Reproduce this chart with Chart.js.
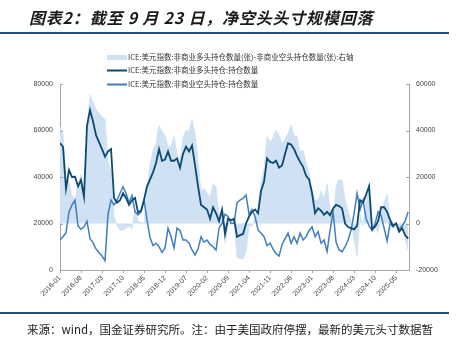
<!DOCTYPE html>
<html>
<head>
<meta charset="utf-8">
<script src="https://cdn.jsdelivr.net/npm/chart.js@4"></script>
<style>
    body { margin: 0; width: 462px; height: 342px; overflow: hidden; background: #fff; position: relative; font-family: "Noto Sans CJK SC", sans-serif; }
    #chart { position: absolute; left: 0; top: 0; }
    .title { position: absolute; left: 29px; top: 5px; font-size: 16px; font-style: italic; font-weight: bold; letter-spacing: 0.8px; color: #1a1a1a; white-space: nowrap; }
    .rule { position: absolute; left: 0; width: 449px; height: 1.5px; background: #1f4f7c; }
    .note { position: absolute; left: 27px; top: 321px; font-size: 11.5px; color: #222; white-space: nowrap; }
</style>
</head>
<body>
<canvas id="chart" width="462" height="342"></canvas>
<div class="title">图表2：截至 9 月 23 日，净空头头寸规模回落</div>
<div class="rule" style="top:32px"></div>
<div class="rule" style="top:312px"></div>
<div class="note">来源：wind，国金证券研究所。注：由于美国政府停摆，最新的美元头寸数据暂</div>
<script>
// ── Data (monthly, 2016-01 … 2025-09) ─────────────────────
const tickLabels = ['2016-01', '2016-08', '2017-03', '2017-10', '2018-05', '2018-12', '2019-07', '2020-02',
    '2020-09', '2021-04', '2021-11', '2022-06', '2023-01', '2023-08', '2024-03', '2024-10', '2025-05'];

const seriesNames = [
    'ICE:美元指数:非商业多头持仓数量(张)-非商业空头持仓数量(张):右轴',
    'ICE:美元指数:非商业多头持仓:持仓数量',
    'ICE:美元指数:非商业空头持仓:持仓数量'
];

// non-commercial long
const longV = [
    54600, 53000, 35000, 43000, 40000, 40100, 36000, 38700, 31500, 62000,
    68800, 64000, 58000, 55000, 52000, 48700, 51000, 52000, 31000, 29000,
    30000, 33000, 31000, 28000, 30000, 31000, 24800, 25500, 30100, 36000,
    39000, 42000, 46000, 52000, 47000, 47500, 51000, 47000, 47000, 48000,
    44000, 50000, 53000, 51000, 53500, 45000, 36000, 28000, 27000, 26000,
    22000, 27000, 24400, 21000, 26000, 15500, 22000, 21500, 22000, 14300,
    15000, 15500, 20000, 23000, 25000, 26000, 24400, 34000, 38000, 48000,
    46500, 46000, 47000, 44000, 45000, 50000, 54500, 54000, 52000, 49000,
    46500, 44400, 40500, 39000, 33000, 24400, 26500, 25500, 23700, 25000,
    23500, 26500, 28000, 27500, 26500, 20000, 18500, 18000, 17500, 19000,
    30000, 29000, 32500, 36000, 17500, 18600, 21000, 27000, 27000, 25000,
    21500, 19000, 20000, 16500, 18000, 15000, 13500
];

// non-commercial short
const shortV = [
    12900, 14300, 16000, 25000, 28000, 30000, 19000, 17500, 18600, 21000,
    13500, 11800, 9000, 7500, 6000, 4000, 24000, 30100, 28000, 30000,
    33000, 35800, 33000, 29000, 32000, 25000, 23700, 25000, 30100, 21500,
    14000, 10500, 11500, 10000, 7500, 9500, 18000, 14300, 9500, 18000,
    17000, 12900, 12900, 11500, 8600, 6500, 9000, 14300, 12000, 12900,
    11000, 10000, 8600, 18000, 20000, 24000, 23000, 20000, 20100, 29000,
    30100, 30800, 32300, 24000, 26000, 23000, 17200, 15800, 14300, 10500,
    11500, 9000, 7000, 6000, 11000, 13500, 15800, 11500, 14300, 11500,
    15800, 12900, 14300, 17000, 18600, 14300, 16500, 11500, 12900, 8000,
    17000, 25000, 12000, 8600, 7900, 10000, 12900, 17200, 24400, 33000,
    26000, 30100, 22000, 19000, 17000, 20000, 25000, 23500, 18000, 12500,
    20000, 18600, 20100, 17500, 19000, 21000, 25000
];

// net position (right axis)
const netV = [
    41700, 38700, 19000, 18000, 12000, 10100, 17000, 21200, 12900, 41000,
    55300, 52200, 49000, 47500, 46000, 44700, 27000, 21900, 3000, -1000,
    -3000, -2800, -2000, -1000, -2000, 6000, 1100, 500, 0, 14500,
    25000, 31500, 34500, 42000, 39500, 38000, 33000, 32700, 37500, 30000,
    27000, 37100, 40100, 39500, 44900, 38500, 27000, 13700, 15000, 13100,
    11000, 17000, 15800, 3000, 6000, -8500, -1000, 1500, 1900, -14700,
    -15100, -15300, -12300, -1000, -1000, 3000, 7200, 18200, 23700, 37500,
    35000, 37000, 40000, 38000, 34000, 36500, 38700, 42500, 37700, 37500,
    30700, 31500, 26200, 22000, 14400, 10100, 10000, 14000, 10800, 17000,
    6500, 1500, 16000, 18900, 18600, 10000, 5600, 800, -6900, -14000,
    4000, -1100, 10500, 17000, 500, -1400, -4000, 3500, 9000, 12500,
    1500, 400, -100, -1000, -1000, -6000, -11500
];

const monthIdx = longV.map((_, i) => i);

const AXIS = '#a6a6a6';
const TICK_FONT = { family: 'Liberation Sans, Arial, sans-serif', size: 7 };

// ── Legend drawn as a stacked list at top ──────────────────
const stackedLegend = {
    id: 'stackedLegend',
    afterDraw(chart) {
        const ctx = chart.ctx;
        const rows = [57.5, 70.5, 84.5];
        ctx.save();
        ctx.font = '7.5px "Noto Sans CJK SC", sans-serif';
        ctx.textBaseline = 'middle';
        chart.data.datasets.forEach((ds, i) => {
            const y = rows[i];
            if (ds.fill) {
                ctx.fillStyle = ds.backgroundColor;
                ctx.fillRect(107, y - 2.5, 20, 5);
            } else {
                ctx.strokeStyle = ds.borderColor;
                ctx.lineWidth = 2;
                ctx.beginPath();
                ctx.moveTo(107, y);
                ctx.lineTo(127, y);
                ctx.stroke();
            }
            ctx.fillStyle = '#333';
            ctx.fillText(ds.label, 128, y);
        });
        ctx.restore();
    }
};

// ── Inward tick marks on both y axes ───────────────────────
const innerTicks = {
    id: 'innerTicks',
    afterDraw(chart) {
        const ctx = chart.ctx;
        ctx.save();
        ctx.strokeStyle = AXIS;
        ctx.lineWidth = 1;
        ['y', 'y1'].forEach(id => {
            const s = chart.scales[id];
            const x0 = id === 'y' ? s.right : s.left;
            const dir = id === 'y' ? 1 : -1;
            s.ticks.forEach(t => {
                const py = Math.round(s.getPixelForValue(t.value)) + 0.5;
                ctx.beginPath();
                ctx.moveTo(x0, py);
                ctx.lineTo(x0 + dir * 3, py);
                ctx.stroke();
            });
        });
        ctx.restore();
    }
};

new Chart(document.getElementById('chart').getContext('2d'), {
    type: 'line',
    data: {
        labels: monthIdx,
        datasets: [
            {
                label: seriesNames[0],
                data: netV,
                yAxisID: 'y1',
                fill: 'origin',
                backgroundColor: 'rgb(207, 225, 242)',
                borderColor: 'rgb(207, 225, 242)',
                borderWidth: 0.8,
                pointRadius: 0,
                order: 3
            },
            {
                label: seriesNames[1],
                data: longV,
                yAxisID: 'y',
                fill: false,
                borderColor: '#0c4a70',
                borderWidth: 1.8,
                pointRadius: 0,
                order: 1
            },
            {
                label: seriesNames[2],
                data: shortV,
                yAxisID: 'y',
                fill: false,
                borderColor: '#3f7ec2',
                borderWidth: 1.5,
                pointRadius: 0,
                order: 2
            }
        ]
    },
    options: {
        responsive: false,
        animation: false,
        layout: { padding: { top: 84, left: 0, right: 0, bottom: 0 } },
        plugins: {
            legend: { display: false },
            tooltip: { enabled: false }
        },
        scales: {
            x: {
                type: 'linear',
                min: 0,
                max: 116.3,
                afterBuildTicks: s => { s.ticks = tickLabels.map((_, i) => ({ value: i * 7 })); },
                afterFit: s => { s.height = 72; },
                border: { color: AXIS },
                grid: { drawOnChartArea: false, tickLength: 3, color: AXIS },
                ticks: {
                    autoSkip: false,
                    maxRotation: 45,
                    minRotation: 45,
                    padding: 1,
                    color: '#444',
                    font: TICK_FONT,
                    callback: v => tickLabels[Math.round(v / 7)]
                }
            },
            y: {
                position: 'left',
                min: 0,
                max: 80000,
                afterFit: s => { s.width = 60; },
                border: { color: AXIS },
                grid: { drawOnChartArea: false, drawTicks: false },
                ticks: { stepSize: 20000, padding: 7, color: '#444', font: TICK_FONT, callback: v => String(v) }
            },
            y1: {
                position: 'right',
                min: -20000,
                max: 60000,
                afterFit: s => { s.width = 53; },
                border: { color: AXIS },
                grid: { drawOnChartArea: false, drawTicks: false },
                ticks: { stepSize: 20000, padding: 7, color: '#444', font: TICK_FONT, callback: v => String(v) }
            }
        }
    },
    plugins: [stackedLegend, innerTicks]
});
</script>
</body>
</html>
